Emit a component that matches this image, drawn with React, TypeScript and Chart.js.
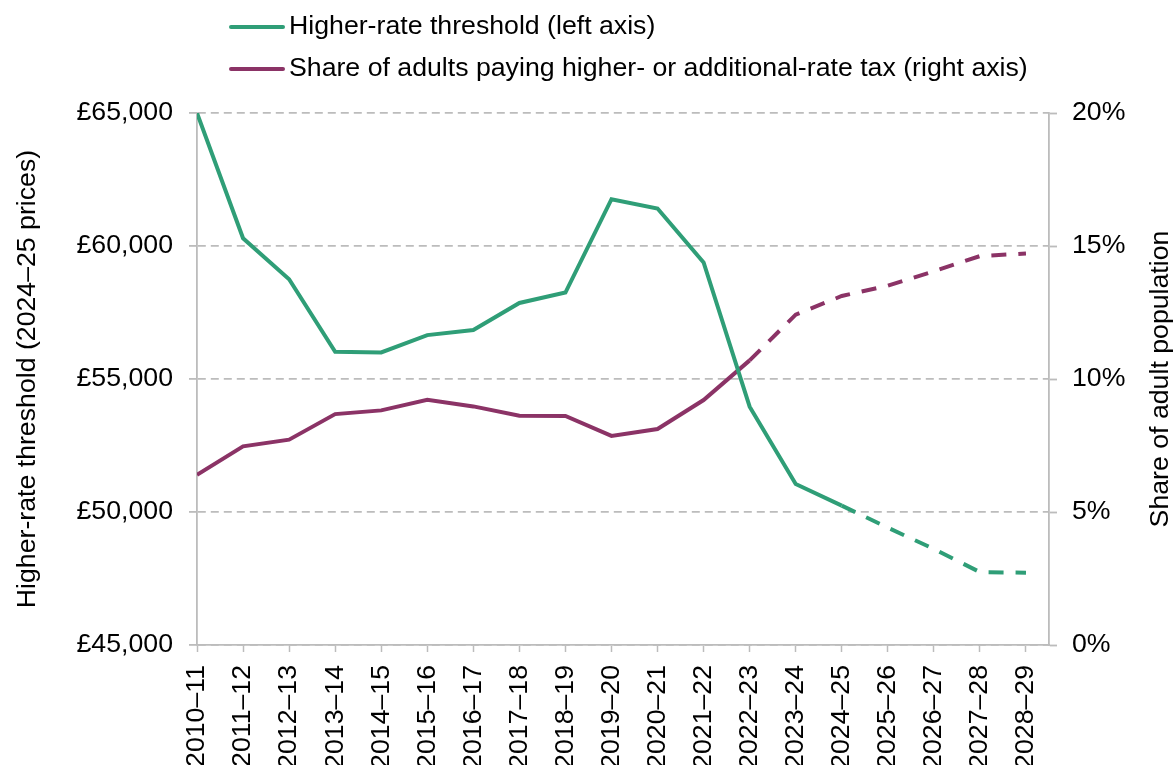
import React, { useEffect, useRef } from 'react';
import { Chart, registerables } from 'chart.js';

Chart.register(...registerables);

const years = [
  '2010–11', '2011–12', '2012–13', '2013–14', '2014–15', '2015–16', '2016–17',
  '2017–18', '2018–19', '2019–20', '2020–21', '2021–22', '2022–23', '2023–24',
  '2024–25', '2025–26', '2026–27', '2027–28', '2028–29',
];

const thresholdValues = [
  65000, 60290, 58750, 56020, 56000, 56650, 56840, 57860, 58250, 61760,
  61410, 59380, 53960, 51050, 50240, 49410, 48610, 47740, 47720,
];

const shareValues = [
  6.40, 7.47, 7.72, 8.68, 8.82, 9.22, 8.97, 8.62, 8.61, 7.86,
  8.12, 9.21, 10.70, 12.42, 13.12, 13.51, 14.05, 14.62, 14.72,
];

const thresholdProjectionStart = 14; // 2024–25 onwards dashed
const shareProjectionStart = 12; // 2022–23 onwards dashed

const seriesNames = [
  'Higher-rate threshold (left axis)',
  'Share of adults paying higher- or additional-rate tax (right axis)',
];
const leftTitle = 'Higher-rate threshold (2024–25 prices)';
const rightTitle = 'Share of adult population';

const leftMin = 45000;
const leftMax = 65000;
const leftStep = 5000;
const rightMin = 0;
const rightMax = 20;
const rightStep = 5;

const GREEN = '#2f9e77';
const PURPLE = '#8b3366';
const AXIS = '#bcbcbc';
const FONT = "'Liberation Sans', Arial, sans-serif";
const FONT_SIZE = 26.7;

const fmtPounds = (v: number) =>
  '£' + String(Math.round(v)).replace(/\B(?=(\d{3})+(?!\d))/g, ',');

const textPlugin = {
  id: 'customText',
  afterDraw(chart: any) {
    const { ctx, chartArea } = chart;
    ctx.save();
    ctx.font = `${FONT_SIZE}px ${FONT}`;
    ctx.fillStyle = '#000';
    ctx.textBaseline = 'middle';
    const items = [
      { label: seriesNames[0], color: GREEN, y: 27 },
      { label: seriesNames[1], color: PURPLE, y: 69 },
    ];
    items.forEach((it) => {
      ctx.strokeStyle = it.color;
      ctx.lineWidth = 4;
      ctx.lineCap = 'round';
      ctx.beginPath();
      ctx.moveTo(231, it.y);
      ctx.lineTo(283, it.y);
      ctx.stroke();
      ctx.textAlign = 'left';
      ctx.fillText(it.label, 289, it.y);
    });
    const midY = (chartArea.top + chartArea.bottom) / 2;
    const titles: [number, string][] = [
      [28, leftTitle],
      [1161, rightTitle],
    ];
    titles.forEach(([x, t]) => {
      ctx.save();
      ctx.translate(x, midY);
      ctx.rotate(-Math.PI / 2);
      ctx.textAlign = 'center';
      ctx.fillText(t, 0, 0);
      ctx.restore();
    });
    ctx.restore();
  },
};

export default function App() {
  const ref = useRef<HTMLCanvasElement>(null);

  useEffect(() => {
    const canvas = ref.current;
    if (!canvas) return;
    const chart = new Chart(canvas, {
      type: 'line',
      data: {
        datasets: [
          {
            label: seriesNames[0],
            data: thresholdValues.map((v, i) => ({ x: i, y: v })),
            borderColor: GREEN,
            backgroundColor: GREEN,
            borderWidth: 4,
            pointRadius: 0,
            tension: 0,
            yAxisID: 'y',
            segment: {
              borderDash: (c: any) =>
                c.p0DataIndex >= thresholdProjectionStart ? [15, 12] : undefined,
            },
          },
          {
            label: seriesNames[1],
            data: shareValues.map((v, i) => ({ x: i, y: v })),
            borderColor: PURPLE,
            backgroundColor: PURPLE,
            borderWidth: 4,
            pointRadius: 0,
            tension: 0,
            yAxisID: 'y2',
            segment: {
              borderDash: (c: any) =>
                c.p0DataIndex >= shareProjectionStart ? [15, 12] : undefined,
            },
          },
        ],
      },
      options: {
        animation: false,
        responsive: false,
        devicePixelRatio: 1,
        layout: { padding: { top: 113, left: 0, right: 0, bottom: 0 } },
        plugins: {
          legend: { display: false },
          tooltip: { enabled: false },
        },
        scales: {
          x: {
            type: 'linear',
            position: 'bottom',
            min: 0,
            max: years.length - 0.5,
            afterBuildTicks: (scale: any) => {
              scale.ticks = years.map((_, i) => ({ value: i }));
            },
            afterFit: (scale: any) => {
              scale.height = 120;
            },
            ticks: {
              autoSkip: false,
              minRotation: 90,
              maxRotation: 90,
              padding: 13,
              color: '#000',
              font: { family: FONT, size: FONT_SIZE },
              callback: (v: any) => years[v] ?? '',
            },
            grid: {
              drawOnChartArea: false,
              drawTicks: true,
              tickLength: 7,
              tickColor: AXIS,
              tickWidth: 1.5,
              color: AXIS,
            },
            border: { display: true, color: AXIS, width: 1.8 },
          },
          y: {
            type: 'linear',
            position: 'left',
            min: leftMin,
            max: leftMax,
            afterFit: (scale: any) => {
              scale.width = 197;
            },
            ticks: {
              stepSize: leftStep,
              padding: 16,
              color: '#000',
              font: { family: FONT, size: FONT_SIZE },
              callback: (v: any) => fmtPounds(Number(v)),
            },
            grid: {
              drawOnChartArea: true,
              drawTicks: true,
              tickLength: 8,
              tickColor: AXIS,
              tickWidth: 1.8,
              color: AXIS,
              lineWidth: 1.8,
            },
            border: { display: true, color: AXIS, width: 1.8, dash: [8, 5] },
          },
          y2: {
            type: 'linear',
            position: 'right',
            min: rightMin,
            max: rightMax,
            afterFit: (scale: any) => {
              scale.width = 127;
            },
            ticks: {
              stepSize: rightStep,
              padding: 15,
              color: '#000',
              font: { family: FONT, size: FONT_SIZE },
              callback: (v: any) => `${v}%`,
            },
            grid: {
              drawOnChartArea: false,
              drawTicks: true,
              tickLength: 8,
              tickColor: AXIS,
              tickWidth: 1.8,
              color: AXIS,
            },
            border: { display: true, color: AXIS, width: 1.8 },
          },
        },
      },
      plugins: [textPlugin],
    } as any);
    return () => chart.destroy();
  }, []);

  return (
    <div
      style={{
        position: 'absolute',
        left: 0,
        top: 0,
        width: 1176,
        height: 765,
        background: '#fff',
      }}
    >
      <canvas ref={ref} width={1176} height={765} />
    </div>
  );
}
